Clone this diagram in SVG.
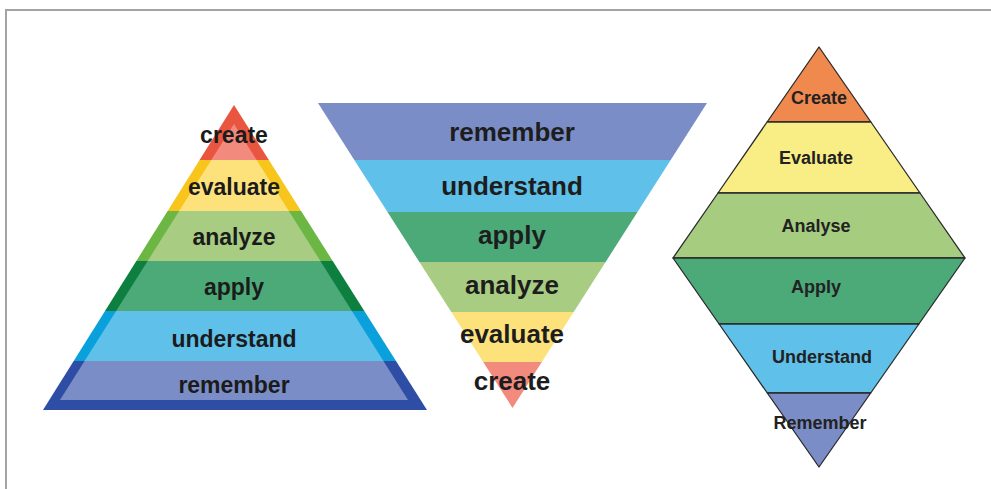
<svg xmlns="http://www.w3.org/2000/svg" width="991" height="489" viewBox="0 0 991 489">
<defs>
<style>
.t1{font-family:"Liberation Sans",Arial,sans-serif;font-weight:bold;font-size:23px;fill:#1b1b1b;text-anchor:middle}
.t2{font-family:"Liberation Sans",Arial,sans-serif;font-weight:bold;font-size:26px;fill:#1d1d1d;text-anchor:middle}
.t3{font-family:"Liberation Sans",Arial,sans-serif;font-weight:bold;font-size:18px;fill:#222;text-anchor:middle}
.d{stroke:#2a2a2a;stroke-width:1.3;stroke-linejoin:round}
</style>
<clipPath id="outerTri"><polygon points="234,105 43,410 427,410"/></clipPath>
<clipPath id="innerTri"><polygon points="234,124 60,400 408,400"/></clipPath>
</defs>
<rect x="0" y="0" width="991" height="489" fill="#fff"/>
<path d="M6,495 V10 H995" fill="none" stroke="#a3a3a3" stroke-width="2"/>

<!-- Left pyramid -->
<g id="left-pyramid">
<g id="l-create">
<rect x="40" y="100" width="400" height="60" fill="#e9553f" clip-path="url(#outerTri)"/>
<rect x="40" y="100" width="400" height="60" fill="#f28b7e" clip-path="url(#innerTri)"/>
</g>
<g id="l-evaluate">
<rect x="40" y="160" width="400" height="51" fill="#f8c51c" clip-path="url(#outerTri)"/>
<rect x="40" y="160" width="400" height="51" fill="#fde27c" clip-path="url(#innerTri)"/>
</g>
<g id="l-analyze">
<rect x="40" y="211" width="400" height="50" fill="#6cb644" clip-path="url(#outerTri)"/>
<rect x="40" y="211" width="400" height="50" fill="#a8cd82" clip-path="url(#innerTri)"/>
</g>
<g id="l-apply">
<rect x="40" y="261" width="400" height="50" fill="#0d7f3f" clip-path="url(#outerTri)"/>
<rect x="40" y="261" width="400" height="50" fill="#4caa79" clip-path="url(#innerTri)"/>
</g>
<g id="l-understand">
<rect x="40" y="311" width="400" height="50" fill="#0aa0dc" clip-path="url(#outerTri)"/>
<rect x="40" y="311" width="400" height="50" fill="#5fc0ea" clip-path="url(#innerTri)"/>
</g>
<g id="l-remember">
<rect x="40" y="361" width="400" height="50" fill="#2e4ea5" clip-path="url(#outerTri)"/>
<rect x="40" y="361" width="400" height="50" fill="#7b8dc6" clip-path="url(#innerTri)"/>
</g>
<text class="t1" x="234" y="143">create</text>
<text class="t1" x="234" y="195">evaluate</text>
<text class="t1" x="234" y="245">analyze</text>
<text class="t1" x="234" y="295">apply</text>
<text class="t1" x="234" y="347">understand</text>
<text class="t1" x="234" y="393">remember</text>
</g>

<!-- Middle inverted pyramid -->
<g id="middle-pyramid">
<g id="m-remember"><polygon points="318,103 707,103 670.7,160 354.3,160" fill="#7b8dc6"/><text class="t2" x="512" y="141">remember</text></g>
<g id="m-understand"><polygon points="354.3,160 670.7,160 637.5,212 387.5,212" fill="#5fc0ea"/><text class="t2" x="512" y="195">understand</text></g>
<g id="m-apply"><polygon points="387.5,212 637.5,212 605.6,262 419.4,262" fill="#4caa79"/><text class="t2" x="512" y="244">apply</text></g>
<g id="m-analyze"><polygon points="419.4,262 605.6,262 573.7,312 451.3,312" fill="#a8cd82"/><text class="t2" x="512" y="294">analyze</text></g>
<g id="m-evaluate"><polygon points="451.3,312 573.7,312 541.8,362 483.2,362" fill="#fde27c"/><text class="t2" x="512" y="343">evaluate</text></g>
<g id="m-create"><polygon points="483.2,362 541.8,362 512.5,408" fill="#f28b7e"/><text class="t2" x="512" y="390">create</text></g>
</g>

<!-- Right diamond -->
<g id="diamond">
<g id="d-create"><polygon class="d" points="819,47 870.9,122 767.1,122" fill="#f0894e"/><text class="t3" x="819" y="104">Create</text></g>
<g id="d-evaluate"><polygon class="d" points="767.1,122 870.9,122 920,193 718,193" fill="#f9ee85"/><text class="t3" x="816" y="164">Evaluate</text></g>
<g id="d-analyse"><polygon class="d" points="718,193 920,193 965,258 673,258" fill="#a6cc80"/><text class="t3" x="816" y="232">Analyse</text></g>
<g id="d-apply"><polygon class="d" points="673,258 965,258 918.9,324 719.1,324" fill="#4caa79"/><text class="t3" x="816" y="293">Apply</text></g>
<g id="d-understand"><polygon class="d" points="719.1,324 918.9,324 870.7,393 767.3,393" fill="#5fc0ea"/><text class="t3" x="822" y="363">Understand</text></g>
<g id="d-remember"><polygon class="d" points="767.3,393 870.7,393 819,467" fill="#7b8dc6"/><text class="t3" x="820" y="429">Remember</text></g>
</g>
</svg>
